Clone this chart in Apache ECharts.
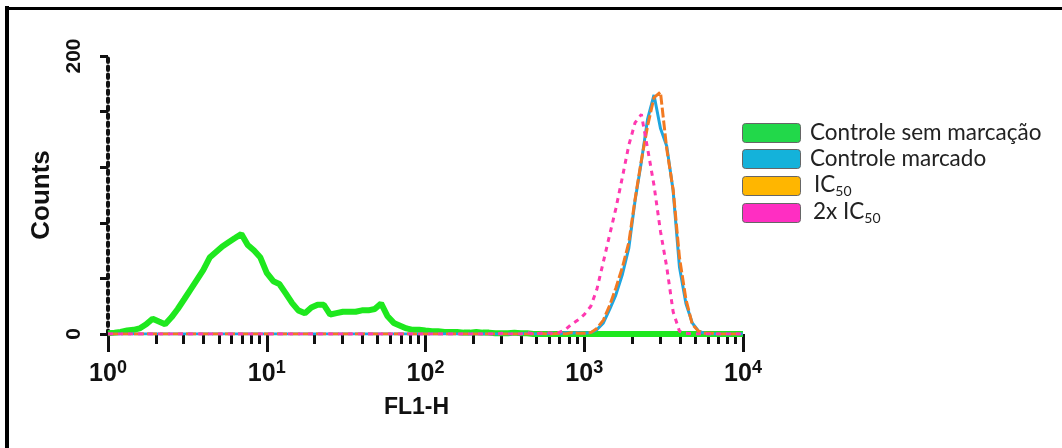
<!DOCTYPE html>
<html>
<head>
<meta charset="utf-8">
<script src="https://cdn.jsdelivr.net/npm/echarts@6/dist/echarts.min.js"></script>
<style>
html,body{margin:0;padding:0;background:#fff;}
#chart{width:1062px;height:448px;}
</style>
</head>
<body>
<div id="chart"></div>
<script>
// FL1-H channel values (log spaced)
const fl1 = [1, 1.1, 1.2, 1.32, 1.45, 1.58, 1.74, 1.91, 2.09, 2.29, 2.51, 2.75, 3.02, 3.31, 3.63, 3.98, 4.37, 4.79, 5.25, 5.75, 6.31, 6.92, 7.59, 8.32, 9.12,
  10, 11, 12, 13.2, 14.5, 15.8, 17.4, 19.1, 20.9, 22.9, 25.1, 27.5, 30.2, 33.1, 36.3, 39.8, 43.7, 47.9, 52.5, 57.5, 63.1, 69.2, 75.9, 83.2, 91.2,
  100, 110, 120, 132, 145, 158, 174, 191, 209, 229, 251, 275, 302, 331, 363, 398, 437, 479, 525, 575, 631, 692, 759, 832, 912,
  1000, 1100, 1200, 1320, 1450, 1580, 1740, 1910, 2090, 2290, 2510, 2750, 3020, 3310, 3630, 3980, 4370, 4790, 5250, 5750, 6310, 6920, 7590, 8320, 9120, 10000];

const controleSemMarcacao = [0.5, 1, 1.5, 2.5, 3, 4, 7, 11, 9, 7, 12, 18, 25, 32, 39, 46, 55, 59, 63, 66, 69, 72, 64, 60, 55,
  44, 38, 36, 29, 22, 17, 15, 19, 21, 21, 14, 15, 16, 16, 16, 17, 17, 18, 22, 13, 8, 6, 4, 3, 3,
  2.5, 2, 2, 1.5, 1.5, 1.5, 1, 1, 1.5, 1, 1, 0.5, 0.5, 0.5, 1, 0.5, 0.5, 0, 0, 0, 0, 0, 0, 0, 0,
  0, 0, 0, 0, 0, 0, 0, 0, 0, 0, 0, 0, 0, 0, 0, 0, 0, 0, 0, 0, 0, 0, 0, 0, 0, 0];

const controleMarcado = [0, 0, 0, 0, 0, 0, 0, 0, 0, 0, 0, 0, 0, 0, 0, 0, 0, 0, 0, 0, 0, 0, 0, 0, 0,
  0, 0, 0, 0, 0, 0, 0, 0, 0, 0, 0, 0, 0, 0, 0, 0, 0, 0, 0, 0, 0, 0, 0, 0, 0,
  0, 0, 0, 0, 0, 0, 0, 0, 0, 0, 0, 0, 0, 0, 0, 0, 0.5, 0, 0, 0, 0.5, 0, 1, 0.5, 1,
  0.5, 1, 3, 8, 18, 28, 43, 62, 96, 124, 155, 172, 148, 135, 103, 48, 22, 8, 2, 0.5, 0, 0, 0, 0, 0, 0];

const ic50 = [0, 0, 0, 0, 0, 0, 0, 0, 0, 0, 0, 0, 0, 0, 0, 0, 0, 0, 0, 0, 0, 0, 0, 0, 0,
  0, 0, 0, 0, 0, 0, 0, 0, 0, 0, 0, 0, 0, 0, 0, 0, 0, 0, 0, 0, 0, 0, 0, 0, 0,
  0, 0, 0, 0, 0, 0, 0, 0, 0, 0, 0, 0, 0, 0, 0, 0, 0, 0, 0.5, 0, 0, 0.5, 0, 1, 0.5,
  0.5, 1, 4, 10, 21, 33, 48, 66, 97, 125, 150, 170, 174, 133, 104, 55, 25, 7, 2, 0.5, 0.5, 0, 0, 0, 0, 0];

const ic50x2 = [0, 0, 0, 0, 0, 0, 0, 0, 0, 0, 0, 0, 0, 0, 0, 0, 0, 0, 0, 0, 0, 0, 0, 0, 0,
  0, 0, 0, 0, 0, 0, 0, 0, 0, 0, 0, 0, 0, 0, 0, 0, 0, 0, 0, 0, 0, 0, 0, 0, 0,
  0, 0, 0, 0, 0, 0, 0, 0, 0, 0, 0, 0, 0.5, 0, 0, 0, 1, 0, 0.5, 1, 0.5, 1, 3, 7, 10,
  14, 20, 32, 52, 72, 90, 113, 136, 152, 158, 133, 107, 74, 48, 16, 2, 0.5, 0, 0, 0, 0, 0, 0, 0, 0, 0];

const minorTickValues = [2, 3, 4, 5, 6, 7, 8, 9, 20, 30, 40, 50, 60, 70, 80, 90, 200, 300, 400, 500, 600, 700, 800, 900, 2000, 3000, 4000, 5000, 6000, 7000, 8000, 9000];
const yLabelValues = [0, 200];
const seriesNames = ['Controle sem marcação', 'Controle marcado', 'IC50', '2x IC50'];

const pair = arr => fl1.map((x, i) => [x, arr[i]]);
const boldFont = "'Liberation Sans', Arial, sans-serif";
const legFont = "Lato, 'Open Sans', sans-serif";

const chart = echarts.init(document.getElementById('chart'), null, {renderer: 'canvas'});

const legendItems = [
  {top: 123, color: '#22d84a', text: 'Controle sem marcação', tx: 810, ty: 133},
  {top: 149, color: '#14b2da', text: 'Controle marcado', tx: 810, ty: 159},
  {top: 176, color: '#ffb600', text: '{a|IC}{s|50}', tx: 814, ty: 185, rich: true},
  {top: 203, color: '#ff2ec2', text: '{a|2x IC}{s|50}', tx: 813, ty: 212, rich: true}
];
const graphics = [
  {type: 'line', shape: {x1: 7, y1: 6, x2: 7, y2: 448}, style: {stroke: '#000', lineWidth: 4}},
  {type: 'line', shape: {x1: 5, y1: 8.5, x2: 1062, y2: 8.5}, style: {stroke: '#000', lineWidth: 3}}
];
legendItems.forEach(it => {
  graphics.push({type: 'rect', shape: {x: 742.5, y: it.top + 0.5, width: 58, height: 19, r: 3},
    style: {fill: it.color, stroke: '#666', lineWidth: 1}});
  const st = {text: it.text, x: it.tx, y: it.ty, fill: '#222', fontFamily: legFont, fontSize: 22.5, verticalAlign: 'middle', align: 'left'};
  if (it.rich) {
    st.rich = {a: {fontSize: 22.5, fontFamily: legFont, fill: '#222', lineHeight: 26, verticalAlign: 'middle'},
               s: {fontSize: 14, fontFamily: legFont, fill: '#222', lineHeight: 14, verticalAlign: 'bottom'}};
  }
  graphics.push({type: 'text', style: st});
});

chart.setOption({
  animation: false,
  backgroundColor: '#fff',
  grid: {left: 108, right: 319, top: 56, bottom: 114},
  xAxis: [
    {
      type: 'log', logBase: 10, min: 1, max: 10000, interval: 1,
      name: 'FL1-H', nameLocation: 'middle', nameGap: 62,
      nameTextStyle: {fontFamily: boldFont, fontWeight: 'bold', fontSize: 23, color: '#111', padding: [0, 18, 0, 0]},
      axisLine: {show: false},
      axisTick: {show: true, length: 18, lineStyle: {color: '#111', width: 3}},
      splitLine: {show: false},
      axisLabel: {
        margin: 25, color: '#111',
        formatter: v => '{b|10}{s|' + Math.round(Math.log10(v)) + '}',
        rich: {
          b: {fontFamily: boldFont, fontWeight: 'bold', fontSize: 25, lineHeight: 30, color: '#111'},
          s: {fontFamily: boldFont, fontWeight: 'bold', fontSize: 18, lineHeight: 12, verticalAlign: 'top', color: '#111'}
        }
      }
    },
    {
      type: 'value', min: 0, max: 4, position: 'bottom',
      axisLine: {show: false}, axisLabel: {show: false}, splitLine: {show: false},
      axisTick: {show: true, length: 10, lineStyle: {color: '#111', width: 3},
        customValues: minorTickValues.map(v => Math.log10(v))}
    }
  ],
  yAxis: {
    type: 'value', min: 0, max: 200, interval: 40, offset: 8,
    name: 'Counts', nameLocation: 'middle', nameGap: 45, nameRotate: 90,
    nameTextStyle: {fontFamily: boldFont, fontWeight: 'bold', fontSize: 26, color: '#111'},
    axisLine: {show: true, lineStyle: {color: '#111', width: 4, type: [3.5, 4.5]}},
    axisTick: {show: true, length: 8, lineStyle: {color: '#111', width: 3}},
    splitLine: {show: false},
    axisLabel: {
      rotate: 90, margin: 15, color: '#111',
      fontFamily: boldFont, fontWeight: 'bold', fontSize: 21,
      formatter: v => (yLabelValues.indexOf(v) >= 0 ? String(v) : '')
    }
  },
  series: [
    {name: seriesNames[0], type: 'line', data: pair(controleSemMarcacao), showSymbol: false, z: 2,
      lineStyle: {color: '#1ee81e', width: 6}, itemStyle: {color: '#1ee81e'}},
    {name: seriesNames[1], type: 'line', data: pair(controleMarcado), showSymbol: false, z: 3,
      lineStyle: {color: '#1ea6e0', width: 3}, itemStyle: {color: '#1ea6e0'}},
    {name: seriesNames[2], type: 'line', data: pair(ic50), showSymbol: false, z: 4,
      lineStyle: {color: '#f27a22', width: 3, type: [10, 3]}, itemStyle: {color: '#f27a22'}},
    {name: seriesNames[3], type: 'line', data: pair(ic50x2), showSymbol: false, z: 5,
      lineStyle: {color: '#ff38b0', width: 3, type: [5, 5]}, itemStyle: {color: '#ff38b0'}}
  ],
  graphic: graphics
});
</script>
</body>
</html>
